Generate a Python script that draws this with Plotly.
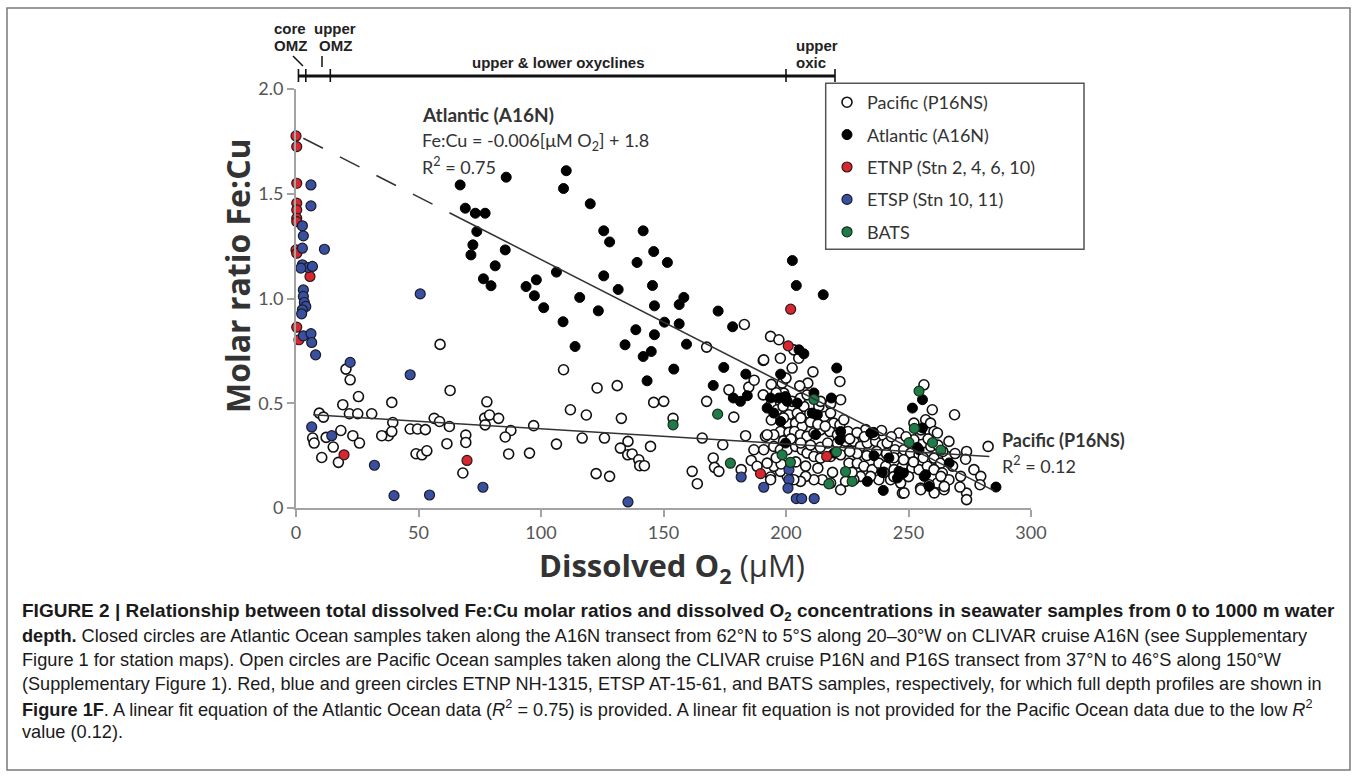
import plotly.graph_objects as go

# ---------------- data ----------------
pacific_x = [58.8, 20.4, 22.1, 62.9, 25.5, 19.1, 39.1, 77.9, 9.5, 11.2, 21.8, 25.2, 30.9, 56.4, 58.6,
             39.5, 62.6, 77.0, 79.0, 82.7, 77.2, 87.7, 97.0, 46.6, 49.6, 52.8, 37.7, 35.0, 39.1, 23.2,
             25.9, 18.3, 12.3, 6.8, 7.4, 15.2, 10.5, 17.3, 61.6, 69.3, 69.3, 49.0, 51.4, 53.4, 68.1,
             85.4, 86.8, 95.3,
             109.2, 122.9, 131.1, 112.0, 118.5, 132.8, 146.0, 150.1, 153.9, 167.6, 178.7, 190.7, 176.7,
             184.8, 167.6, 106.3, 116.8, 125.9, 135.5, 132.4, 135.4, 137.2, 139.9, 140.3, 142.2, 144.7,
             122.5, 128.0, 165.8, 174.2, 183.5, 161.7, 163.8, 170.3, 170.8, 172.6, 181.7, 185.8, 193.7,
             183.0, 193.7, 197.1, 186.9, 191.6, 188.2,
             190.7, 193.9, 196.4, 198.8, 201.2, 204.6, 207.3, 209.7, 213.4, 215.7, 219.5, 222.0, 225.3,
             200.5, 203.9, 206.6, 197.7, 195.0, 192.3, 201.2, 203.5, 205.9, 208.6, 211.4, 214.1, 217.9,
             220.9, 224.3, 227.7, 230.4, 233.2, 236.6, 239.3, 241.3, 244.5, 248.1, 250.9, 254.3, 257.7,
             260.4, 263.1, 265.8, 195.0, 197.7, 200.5, 203.9, 206.6, 208.6, 211.4, 214.1, 218.2, 222.3,
             225.7, 229.1, 231.8, 235.2, 237.9, 240.7, 244.1, 247.5, 251.5, 254.3, 257.7, 260.4, 263.8,
             266.5, 261.8, 264.5, 258.4, 254.9, 246.8, 247.5, 242.7, 237.9, 234.5, 230.4, 227.7, 224.3,
             222.3, 218.2, 214.8, 211.4, 208.0, 205.9, 203.2, 200.5, 197.7, 195.0, 192.3, 190.9, 193.7,
             214.1, 222.0, 218.2, 208.9, 205.6, 202.5, 198.4, 197.7, 203.2, 205.2, 190.9, 199.1, 202.5,
             205.9, 208.6, 256.3, 259.7, 257.0, 259.0, 260.4, 268.8, 266.5, 273.7, 273.3, 282.5, 276.7,
             279.5, 279.2, 273.7, 273.7, 271.3, 254.9, 252.2, 223.6, 232.5, 246.1, 222.3, 218.2, 261.8,
             259.1, 263.2, 264.6, 260.5, 255.0, 248.2, 252.2, 255.0,
             194.0, 199.0, 206.0, 210.0, 213.0, 216.0, 199.0, 202.0, 206.0, 210.0, 214.0, 217.0, 221.0,
             226.0, 229.0, 232.0, 236.0, 239.0, 243.0, 249.0, 244.0, 241.0, 237.0, 233.0, 229.0, 226.0,
             248.0, 252.0, 256.0, 250.0, 244.0, 240.0, 227.0, 219.0, 213.0, 208.0, 204.0, 198.0, 196.0,
             262.0, 264.0, 258.0, 269.0, 268.0, 271.0, 196.0, 200.0, 211.0, 187.0, 194.0]
pacific_y = [0.781, 0.663, 0.612, 0.561, 0.532, 0.493, 0.504, 0.507, 0.453, 0.434, 0.450, 0.450, 0.450, 0.428, 0.413,
             0.408, 0.389, 0.429, 0.444, 0.428, 0.397, 0.370, 0.393, 0.377, 0.377, 0.374, 0.345, 0.345, 0.365, 0.345,
             0.310, 0.370, 0.337, 0.334, 0.310, 0.291, 0.241, 0.218, 0.307, 0.348, 0.313, 0.259, 0.254, 0.273, 0.167,
             0.339, 0.258, 0.262,
             0.660, 0.573, 0.584, 0.469, 0.444, 0.428, 0.504, 0.509, 0.428, 0.509, 0.434, 0.704, 0.564,
             0.577, 0.768, 0.305, 0.334, 0.334, 0.318, 0.286, 0.254, 0.258, 0.230, 0.202, 0.202, 0.294,
             0.164, 0.151, 0.334, 0.302, 0.345, 0.175, 0.116, 0.239, 0.194, 0.175, 0.183, 0.227, 0.148,
             0.876, 0.819, 0.803, 0.278, 0.342, 0.199,
             0.540, 0.493, 0.469, 0.485, 0.445, 0.453, 0.485, 0.450, 0.485, 0.437, 0.405, 0.397, 0.365,
             0.405, 0.405, 0.389, 0.365, 0.350, 0.350, 0.361, 0.365, 0.350, 0.342, 0.358, 0.373, 0.365,
             0.310, 0.318, 0.318, 0.294, 0.310, 0.318, 0.302, 0.310, 0.278, 0.278, 0.262, 0.254, 0.270,
             0.238, 0.214, 0.246, 0.294, 0.278, 0.278, 0.294, 0.278, 0.262, 0.246, 0.238, 0.246, 0.254,
             0.214, 0.214, 0.199, 0.183, 0.214, 0.199, 0.183, 0.199, 0.191, 0.183, 0.199, 0.183, 0.167,
             0.135, 0.119, 0.087, 0.111, 0.095, 0.119, 0.071, 0.135, 0.135, 0.151, 0.151, 0.135, 0.127,
             0.087, 0.119, 0.135, 0.135, 0.151, 0.127, 0.135, 0.151, 0.175, 0.199, 0.214, 0.278, 0.135,
             0.509, 0.604, 0.497, 0.596, 0.583, 0.668, 0.596, 0.715, 0.755, 0.715, 0.707, 0.548, 0.509,
             0.524, 0.540, 0.588, 0.469, 0.421, 0.405, 0.365, 0.445, 0.318, 0.270, 0.233, 0.294, 0.183,
             0.151, 0.111, 0.071, 0.040, 0.151, 0.350, 0.326, 0.421, 0.374, 0.358, 0.517, 0.453, 0.358,
             0.294, 0.151, 0.103, 0.072, 0.087, 0.072, 0.405, 0.373,
             0.420, 0.430, 0.430, 0.410, 0.400, 0.390, 0.320, 0.330, 0.310, 0.300, 0.290, 0.310, 0.350,
             0.330, 0.360, 0.340, 0.350, 0.370, 0.340, 0.340, 0.240, 0.260, 0.270, 0.250, 0.260, 0.270,
             0.230, 0.220, 0.240, 0.150, 0.150, 0.170, 0.170, 0.170, 0.190, 0.200, 0.220, 0.210, 0.240,
             0.300, 0.270, 0.330, 0.260, 0.200, 0.100, 0.550, 0.620, 0.650, 0.610, 0.590]

atlantic_x = [110.3, 109.2, 120.1, 125.6, 141.7, 128.0, 146.0, 139.2, 151.6, 106.3, 125.6, 145.5, 131.5, 115.8,
              158.3, 156.4, 146.3, 101.1, 123.4, 172.3, 109.0, 150.4, 156.4, 178.2, 138.7, 146.3, 113.9, 134.3,
              159.4, 202.6, 204.2, 67.0, 85.8, 69.1, 73.2, 77.2, 73.8, 72.2, 85.4, 71.4, 81.3, 76.5, 79.6,
              93.9, 98.1, 97.3, 141.7, 143.3, 145.0, 154.2, 215.2, 174.6, 183.6, 170.3, 178.5, 181.4, 184.2,
              197.8, 205.3, 207.3, 220.7, 193.7, 197.1, 199.8, 204.6, 192.3, 195.0, 197.8, 212.1, 199.8,
              211.4, 210.7, 212.8, 218.5, 222.3, 222.0, 219.6, 235.7, 235.9, 239.3, 239.7, 233.2, 246.1,
              245.5, 251.6, 255.7, 254.3, 256.4, 258.4, 266.6, 285.7, 242.0, 247.9, 253.6, 255.7, 257.0,
              200.5, 234.6]
atlantic_y = [1.610, 1.525, 1.452, 1.323, 1.323, 1.270, 1.224, 1.172, 1.172, 1.126, 1.108, 1.062, 1.043, 1.005,
              1.005, 0.971, 0.965, 0.956, 0.941, 0.940, 0.889, 0.887, 0.879, 0.865, 0.851, 0.827, 0.771, 0.779,
              0.782, 1.181, 1.062, 1.542, 1.579, 1.431, 1.407, 1.407, 1.320, 1.256, 1.232, 1.208, 1.156, 1.094,
              1.061, 1.057, 1.089, 1.013, 0.723, 0.607, 0.747, 0.663, 1.018, 0.671, 0.639, 0.585, 0.525, 0.509,
              0.536, 0.639, 0.755, 0.736, 0.668, 0.525, 0.525, 0.532, 0.501, 0.477, 0.453, 0.413, 0.350, 0.310,
              0.549, 0.453, 0.445, 0.525, 0.365, 0.326, 0.262, 0.361, 0.250, 0.170, 0.084, 0.127, 0.175,
              0.143, 0.477, 0.517, 0.278, 0.151, 0.103, 0.215, 0.100, 0.239, 0.167, 0.289, 0.382, 0.159,
              0.509, 0.358]

etnp_x = [0.0, 0.3, 0.3, 0.3, 0.3, 0.3, 0.3, 0.0, 0.3, 5.7, 0.3, 1.2, 19.6, 69.8, 201.9, 200.9, 189.6, 216.6]
etnp_y = [1.776, 1.725, 1.550, 1.455, 1.423, 1.383, 1.367, 1.232, 1.216, 1.105, 0.863, 0.803, 0.254, 0.227,
          0.949, 0.774, 0.164, 0.246]

etsp_x = [6.1, 6.1, 2.6, 3.0, 2.6, 11.6, 2.6, 5.0, 6.7, 2.0, 3.0, 3.0, 3.4, 4.0, 2.6, 2.3, 50.7, 3.0, 6.1,
          6.4, 8.0, 22.1, 46.6, 6.4, 14.6, 32.0, 40.0, 54.5, 76.3, 135.5, 181.7, 190.9, 201.2, 201.2, 200.8,
          204.2, 206.4, 211.5]
etsp_y = [1.542, 1.442, 1.347, 1.299, 1.240, 1.235, 1.161, 1.148, 1.153, 1.145, 1.041, 1.010, 0.981, 0.962,
          0.946, 0.927, 1.022, 0.822, 0.832, 0.790, 0.731, 0.695, 0.636, 0.387, 0.345, 0.204, 0.059, 0.062,
          0.099, 0.029, 0.148, 0.099, 0.183, 0.135, 0.095, 0.045, 0.045, 0.045]

bats_x = [153.9, 172.1, 177.3, 198.4, 201.8, 211.4, 220.6, 224.3, 227.0, 217.5, 254.3, 252.4, 250.2, 259.8, 263.2]
bats_y = [0.397, 0.448, 0.214, 0.254, 0.218, 0.518, 0.268, 0.174, 0.127, 0.115, 0.558, 0.380, 0.312, 0.312, 0.276]

# linear fits as drawn
atl_slope, atl_int = -0.00597, 1.783
atl_dash_x = [3.0, 67.0]
atl_solid_x = [67.0, 285.0]
pac_slope, pac_int = -0.000722, 0.450
pac_fit_x = [7.0, 283.0]

x_ticks = [0, 50, 100, 150, 200, 250, 300]
y_ticks = [0, 0.5, 1.0, 1.5, 2.0]
y_ticktext = ["0", "0.5", "1.0", "1.5", "2.0"]

zone_ticks = [1, 4, 14, 200, 220]

legend_names = ["Pacific (P16NS)", "Atlantic (A16N)", "ETNP (Stn 2, 4, 6, 10)", "ETSP (Stn 10, 11)", "BATS"]

# ---------------- layout geometry ----------------
W, H = 1357, 777
ML, MR, MT, MB = 296, 326, 89, 269
PW = W - ML - MR
PH = H - MT - MB


def fx(px):
    return (px - ML) / PW


def fy(py):
    return (H - MB - py) / PH


FONT = "Lato, 'Open Sans', sans-serif"
TITLEFONT = "'Open Sans', Lato, sans-serif"
LAB = "'Liberation Sans', Arial, sans-serif"
CAP = "'Liberation Sans', Arial, sans-serif"
RED = "#d9262f"
BLUE = "#39509e"
GREEN = "#1d7c47"

fig = go.Figure()

fig.add_trace(go.Scatter(x=pacific_x, y=pacific_y, mode="markers", name=legend_names[0], legendgroup="a",
                         marker=dict(size=10, color="white", line=dict(color="#111", width=1.6)),
                         cliponaxis=False))
fig.add_trace(go.Scatter(x=atlantic_x, y=atlantic_y, mode="markers", name=legend_names[1], legendgroup="b",
                         marker=dict(size=10, color="#000", line=dict(color="#000", width=1)),
                         cliponaxis=False))
fig.add_trace(go.Scatter(x=etnp_x, y=etnp_y, mode="markers", name=legend_names[2], legendgroup="c",
                         marker=dict(size=10, color=RED, line=dict(color="#2a1a1a", width=1.2)),
                         cliponaxis=False))
fig.add_trace(go.Scatter(x=etsp_x, y=etsp_y, mode="markers", name=legend_names[3], legendgroup="d",
                         marker=dict(size=10, color=BLUE, line=dict(color="#1a1a2a", width=1.2)),
                         cliponaxis=False))
fig.add_trace(go.Scatter(x=bats_x, y=bats_y, mode="markers", name=legend_names[4], legendgroup="e",
                         marker=dict(size=10, color=GREEN, line=dict(color="#1a2a1a", width=1.2)),
                         cliponaxis=False))

# fit lines
fig.add_trace(go.Scatter(x=atl_dash_x, y=[atl_int + atl_slope * v for v in atl_dash_x], mode="lines",
                         line=dict(color="#333", width=1.6, dash="22px,19px"), showlegend=False,
                         hoverinfo="skip"))
fig.add_trace(go.Scatter(x=atl_solid_x, y=[atl_int + atl_slope * v for v in atl_solid_x], mode="lines",
                         line=dict(color="#333", width=1.5), showlegend=False, hoverinfo="skip"))
fig.add_trace(go.Scatter(x=pac_fit_x, y=[pac_int + pac_slope * v for v in pac_fit_x], mode="lines",
                         line=dict(color="#333", width=1.5), showlegend=False, hoverinfo="skip"))

axis_common = dict(showline=True, linecolor="#a3a3a3", linewidth=2, ticks="outside", ticklen=7,
                   tickwidth=2, tickcolor="#a3a3a3", showgrid=False, zeroline=False,
                   tickfont=dict(family=FONT, size=18, color="#555"))
fig.update_xaxes(range=[0, 300], tickvals=x_ticks, **axis_common)
fig.update_yaxes(range=[0, 2.0], tickvals=y_ticks, ticktext=y_ticktext, **axis_common)

shapes = []
# outer frame
shapes.append(dict(type="rect", xref="paper", yref="paper", x0=fx(7), x1=fx(1350), y0=fy(770), y1=fy(8),
                   line=dict(color="#7a7a7a", width=1.5)))
# legend box
shapes.append(dict(type="rect", xref="paper", yref="paper", x0=fx(825.7), x1=fx(1084), y0=fy(249.3),
                   y1=fy(83.3), line=dict(color="#555", width=1.5)))
# zone bracket
shapes.append(dict(type="line", xref="x", yref="paper", x0=zone_ticks[0], x1=zone_ticks[-1], y0=fy(76),
                   y1=fy(76), line=dict(color="#111", width=3)))
for zt in zone_ticks:
    shapes.append(dict(type="line", xref="x", yref="paper", x0=zt, x1=zt, y0=fy(82), y1=fy(69),
                       line=dict(color="#111", width=1.6)))
# pointer strokes for OMZ labels
shapes.append(dict(type="line", xref="paper", yref="paper", x0=fx(293), x1=fx(303), y0=fy(56), y1=fy(66),
                   line=dict(color="#111", width=1.5)))
shapes.append(dict(type="line", xref="paper", yref="paper", x0=fx(322), x1=fx(322), y0=fy(56), y1=fy(67),
                   line=dict(color="#111", width=1.5)))

ann = []


def add_text(text, x, y, size, xanchor="left", yanchor="middle", color="#222", family=FONT, angle=0):
    ann.append(dict(text=text, x=x, y=y, xref="paper", yref="paper", xanchor=xanchor, yanchor=yanchor,
                    showarrow=False, textangle=angle, align="left",
                    font=dict(family=family, size=size, color=color)))


# zone labels
add_text("<b>core</b>", fx(290), fy(29), 15, xanchor="center", family=LAB)
add_text("<b>OMZ</b>", fx(290), fy(45), 15, xanchor="center", family=LAB)
add_text("<b>upper</b>", fx(335), fy(29), 15, xanchor="center", family=LAB)
add_text("<b>OMZ</b>", fx(335), fy(45), 15, xanchor="center", family=LAB)
add_text("<b>upper & lower oxyclines</b>", fx(558), fy(62), 15, xanchor="center", family=LAB)
add_text("<b>upper</b>", fx(794), fy(45), 15, family=LAB)
add_text("<b>oxic</b>", fx(794), fy(62), 15, family=LAB)

add_text("<b>Atlantic (A16N)</b>", fx(420), fy(115), 19, color="#333")
add_text("Fe:Cu = -0.006[μM O<sub>2</sub>] + 1.8", fx(420), fy(141), 18, color="#333")
add_text("R<sup>2</sup> = 0.75", fx(420), fy(166), 18, color="#333")
add_text("<b>Pacific (P16NS)</b>", fx(1000), fy(440), 18, color="#333")
add_text("R<sup>2</sup> = 0.12", fx(1000), fy(465), 18, color="#333")

add_text("<b>Molar ratio Fe:Cu</b>", fx(237), fy(276), 32, xanchor="center", angle=-90, color="#333",
         family=TITLEFONT)
add_text("<b>Dissolved O<sub>2</sub></b> (μM)", fx(672), fy(567), 31, xanchor="center", color="#333",
         family=TITLEFONT)

caption = [
    "<b>FIGURE 2 | Relationship between total dissolved Fe:Cu molar ratios and dissolved O<sub>2</sub> "
    "concentrations in seawater samples from 0 to 1000 m water</b>",
    "<b>depth.</b> Closed circles are Atlantic Ocean samples taken along the A16N transect from 62°N to 5°S "
    "along 20–30°W on CLIVAR cruise A16N (see Supplementary",
    "Figure 1 for station maps). Open circles are Pacific Ocean samples taken along the CLIVAR cruise P16N "
    "and P16S transect from 37°N to 46°S along 150°W",
    "(Supplementary Figure 1). Red, blue and green circles ETNP NH-1315, ETSP AT-15-61, and BATS samples, "
    "respectively, for which full depth profiles are shown in",
    "<b>Figure 1F</b>. A linear fit equation of the Atlantic Ocean data (<i>R</i><sup>2</sup> = 0.75) is "
    "provided. A linear fit equation is not provided for the Pacific Ocean data due to the low "
    "<i>R</i><sup>2</sup>",
    "value (0.12).",
]
cap_y = [612, 636, 660, 684, 708, 732]
cap_size = [19.0, 18.2, 18.2, 18.1, 18.2, 18.2]
for line, yy, sz in zip(caption, cap_y, cap_size):
    add_text(line, fx(20), fy(yy), sz, color="#1a1a1a", family=CAP)

fig.update_layout(
    width=W, height=H,
    margin=dict(l=ML, r=MR, t=MT, b=MB, pad=0),
    paper_bgcolor="white", plot_bgcolor="white",
    shapes=shapes, annotations=ann,
    showlegend=True,
    legend=dict(x=fx(827), y=fy(84), xanchor="left", yanchor="top", bgcolor="rgba(0,0,0,0)",
                borderwidth=0, tracegroupgap=6, font=dict(family=FONT, size=18, color="#333"),
                itemsizing="trace"),
)

fig.write_html("out.html")
